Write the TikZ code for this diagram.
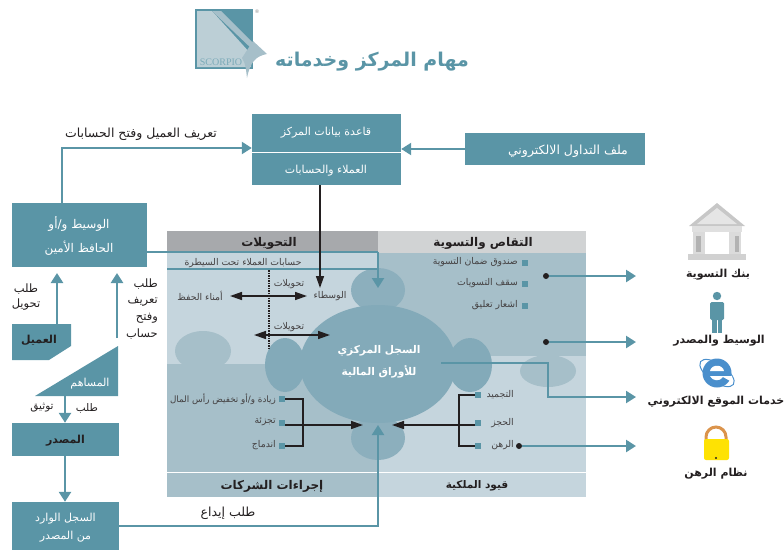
\documentclass[tikz,border=0pt]{standalone}
\usepackage{fontspec}
\usetikzlibrary{arrows.meta,shapes.geometric,calc}
\TeXXeTstate=1
\newfontfamily\arabicfont[Script=Arabic]{DejaVu Sans}
\newfontfamily\logofont{Liberation Serif}
\newcommand{\ar}[1]{{\arabicfont\beginR #1\endR}}
\newcommand{\fsz}[1]{\fontsize{#1}{#1}\selectfont}
\definecolor{teal}{HTML}{5A95A6}
\definecolor{blob}{HTML}{83AAB9}
\definecolor{midb}{HTML}{A6BFC9}
\definecolor{lightb}{HTML}{C5D5DD}
\definecolor{hdrd}{HTML}{A7A9AC}
\definecolor{hdrl}{HTML}{D1D3D4}
\definecolor{ink}{HTML}{231F20}
\definecolor{iebl}{HTML}{4A8FCC}
\tikzset{
  tealbox/.style={fill=teal,text=white,inner sep=0pt,align=center},
  lbl/.style={text=ink,inner sep=0pt,align=center,font=\fsz{12.5}},
  small/.style={text=ink!85,inner sep=0pt,font=\fsz{9.3}},
  head/.style={text=ink,inner sep=0pt,font=\fsz{12}\bfseries},
  iconl/.style={text=ink,inner sep=0pt,font=\fsz{11}\bfseries},
  tealarrow/.style={draw=teal,line width=2.8pt,-{Triangle[length=10pt,width=12pt,fill=teal]}},
  tealthin/.style={draw=teal,line width=2.2pt,-{Triangle[length=10pt,width=12pt,fill=teal]}},
  tealline/.style={draw=teal,line width=2pt},
  blkarrow/.style={draw=ink,line width=1.5pt,-{Triangle[length=12pt,width=8pt,fill=ink]}},
  blk2/.style={draw=ink,line width=1.5pt,{Triangle[length=12pt,width=8pt,fill=ink]}-{Triangle[length=12pt,width=8pt,fill=ink]}},
  brk/.style={draw=ink,line width=1.5pt},
  sq/.style={fill=teal,minimum size=6pt,inner sep=0pt},
  dot/.style={circle,fill=ink,minimum size=6pt,inner sep=0pt},
  boxtxt/.style={inner sep=0pt,text=white,align=center,font=\fsz{11}},
}
\begin{document}
\begin{tikzpicture}[x=1pt,y=-1pt]
\useasboundingbox (0,0) rectangle (784,552);
% logo
\fill[teal] (195,9) rectangle (253,69);
\fill[midb!75!white] (197,11) -- (212,11) -- (251,54) -- (251,67) -- (197,67) -- cycle;
\fill[midb] (212,11) -- (221,11) -- (253,43) -- (253,50) -- cycle;
\fill[midb] (253,41) -- (267,54) .. controls (256,56) and (250,62) .. (247,78) .. controls (246,70) and (246,64) .. (242,58) -- cycle;
\node[inner sep=0pt,text=teal!80!white,font=\logofont\fsz{10}] (scorpio) at (221,62) {SCORPIO};
\node[inner sep=0pt,text=black!45,font=\arabicfont\fsz{5}] (reg) at (257,12) {®};
\node[inner sep=0pt,text=teal,font=\fsz{19}\bfseries] (title) at (372,62) {\ar{مهام المركز وخدماته}};
% panel
\fill[hdrd] (167,231) rectangle (378,253);
\fill[hdrl] (378,231) rectangle (586,253);
\fill[lightb] (167,253) rectangle (378,364);
\fill[midb] (378,253) rectangle (586,356);
\fill[lightb] (378,356) rectangle (586,472);
\fill[midb] (167,364) rectangle (378,472);
\fill[midb] (203,351) ellipse (28 and 20);
\fill[midb] (548,371) ellipse (28 and 16);
\fill[midb] (167,473) rectangle (378,497);
\fill[lightb] (378,473) rectangle (586,497);
% blobs
\fill[blob!75!midb] (378,290) ellipse (27 and 22);
\fill[blob!75!midb] (378,438) ellipse (27 and 22);
\fill[blob] (378,364) ellipse (78 and 59);
\fill[blob] (285,365) ellipse (20 and 27);
\fill[blob] (470,365) ellipse (22 and 27);
% panel text
\node[head] (h1) at (269,243) {\ar{التحويلات}};
\node[head] (h2) at (483,243) {\ar{التقاص والتسوية}};
\node[head] (h3) at (272,486) {\ar{إجراءات الشركات}};
\node[head,font=\fsz{10.5}\bfseries] (h4) at (477,486) {\ar{قيود الملكية}};
\node[small] (acc) at (243,263) {\ar{حسابات العملاء تحت السيطرة}};
\node[small] (t1) at (289,284) {\ar{تحويلات}};
\node[small] (t2) at (289,327) {\ar{تحويلات}};
\node[small] (wus) at (330,296) {\ar{الوسطاء}};
\node[small] (cust) at (200,296) {\ar{أمناء الحفظ}};
\node[small,anchor=east] (s1) at (518,262) {\ar{صندوق ضمان التسوية}};
\node[small,anchor=east] (s2) at (518,283) {\ar{سقف التسويات}};
\node[small,anchor=east] (s3) at (518,305) {\ar{اشعار تعليق}};
\node[sq] (q1) at (525,263) {};
\node[sq] (q2) at (525,284) {};
\node[sq] (q3) at (525,306) {};
\node[small,anchor=east,font=\fsz{8.8}] (c1) at (276,399) {\ar{زيادة و/أو تخفيض رأس المال}};
\node[small,anchor=east] (c2) at (276,422) {\ar{تجزئة}};
\node[small,anchor=east] (c3) at (276,445) {\ar{اندماج}};
\node[sq] (lq1) at (282,399) {};
\node[sq] (lq2) at (282,423) {};
\node[sq] (lq3) at (282,446) {};
\node[small,anchor=east] (r1) at (514,395) {\ar{التجميد}};
\node[small,anchor=east] (r2) at (514,423) {\ar{الحجز}};
\node[small,anchor=east] (r3) at (514,445) {\ar{الرهن}};
\node[sq] (rq1) at (478,395) {};
\node[sq] (rq2) at (478,423) {};
\node[sq] (rq3) at (478,446) {};
\node[boxtxt,font=\fsz{10.6}\bfseries] (csd) at (379,362) {\ar{السجل المركزي}\\[8pt]\ar{للأوراق المالية}};
% coordinates
\coordinate (hubT) at (378,288);
\coordinate (hubB) at (378,425);
\coordinate (hubL) at (363,425);
\coordinate (hubR) at (392,425);
\coordinate (hubE) at (441,363);
\coordinate (bendE) at (548,363);
\coordinate (a1) at (636,276);
\coordinate (a2) at (636,342);
\coordinate (a3) at (636,397);
\coordinate (a4) at (636,446);
\coordinate (wusT) at (320,288);
% boxes
\node[tealbox,minimum width=149pt,minimum height=71pt] (db) at (326.5,149.5) {};
\node[boxtxt] (db1) at (326,133) {\ar{قاعدة بيانات المركز}};
\node[boxtxt] (db2) at (326,171) {\ar{العملاء والحسابات}};
\draw[white,line width=.8pt] (db.west |- 0,152) -- (db.east |- 0,152);
\node[tealbox,minimum width=180pt,minimum height=32pt] (file) at (555,149) {};
\node[boxtxt,font=\fsz{12.5}] (filet) at (568,151) {\ar{ملف التداول الالكتروني}};
\node[tealbox,minimum width=135pt,minimum height=64pt] (broker) at (79.5,235) {};
\node[boxtxt,font=\fsz{12}] (brokert) at (79,236) {\ar{الوسيط و/أو}\\[9pt]\ar{الحافظ الأمين}};
\fill[teal] (12,324) -- (71,324) -- (71,346) -- (49,360) -- (12,360) -- cycle;
\node[inner sep=0pt,text=ink,font=\fsz{11}\bfseries] (client) at (39,340) {\ar{العميل}};
\fill[teal] (118,346) -- (118,396) -- (35,396) -- cycle;
\node[boxtxt] (share) at (90,384) {\ar{المساهم}};
\coordinate (shareT) at (117,338);
\coordinate (shareB) at (65,396);
\coordinate (clientT) at (57,324);
\node[tealbox,minimum width=107pt,minimum height=33pt] (issuer) at (65.5,439.5) {};
\node[inner sep=0pt,text=ink,font=\fsz{11}\bfseries] (issuert) at (65.5,441) {\ar{المصدر}};
\node[tealbox,minimum width=107pt,minimum height=48pt] (reg2) at (65.5,526) {};
\node[boxtxt] (reg2t) at (65.5,528) {\ar{السجل الوارد}\\[6pt]\ar{من المصدر}};
% outside labels
\node[lbl] (l1) at (141,134) {\ar{تعريف العميل وفتح الحسابات}};
\node[lbl,font=\fsz{11.5}] (l2) at (26,297) {\ar{طلب}\\[3pt]\ar{تحويل}};
\node[lbl,font=\fsz{11.5},align=right,anchor=east] (l3) at (158,309) {\ar{طلب}\\[5pt]\ar{تعريف}\\[5pt]\ar{وفتح}\\[5pt]\ar{حساب}};
\node[lbl,font=\fsz{10.5}] (l4) at (42,408) {\ar{توثيق}};
\node[lbl,font=\fsz{10.5}] (l5) at (87,408) {\ar{طلب}};
\node[lbl] (l6) at (228,513) {\ar{طلب إيداع}};
% teal connectors
\draw[tealline] (167,269) -- (377,269);
\draw[tealline] (broker.east |- 0,252) -- (378,252);
\draw[tealthin] (378,252) -- (hubT);
\draw[tealthin] (broker.north -| 62,0) -- (62,148) -- (db.west |- 0,148);
\draw[tealthin] (file.west) -- (db.east |- file.west);
\draw[tealarrow] (clientT) -- (57,273);
\draw[tealarrow] (shareT) -- (117,273);
\draw[tealarrow] (shareB) -- (issuer.north -| shareB);
\draw[tealarrow] (issuer.south -| 65,0) -- (reg2.north -| 65,0);
\draw[tealthin] (reg2.east) -- (378,526) -- (hubB);
\node[dot] (d1) at (546,276) {};
\node[dot] (d2) at (546,342) {};
\node[dot] (d4) at (519,446) {};
\draw[tealarrow] (d1) -- (a1);
\draw[tealarrow] (d2) -- (a2);
\draw[tealarrow] (d4) -- (a4);
\draw[tealthin] (hubE) -- (bendE) -- (548,397) -- (a3);
% black connectors
\draw[blkarrow] (db.south -| wusT) -- (wusT);
\draw[blk2] (230,296) -- (307,296);
\draw[blk2] (254,335) -- (330,335);
\draw[ink,line width=1.5pt,densely dotted] (269,270) -- (269,348);
\draw[brk] (lq1.east) -- (303,399) -- (303,446) -- (lq3.east);
\draw[blkarrow] (lq2.east |- hubL) -- (hubL);
\draw[brk] (rq1.west) -- (459,395) -- (459,446) -- (rq3.west);
\draw[blkarrow] (rq2.west |- hubR) -- (hubR);
% bank icon
\fill[black!22] (689,226) -- (717,203) -- (745,226) -- cycle;
\fill[black!10] (697,224) -- (717,208) -- (737,224) -- cycle;
\fill[black!12] (692,226) rectangle (742,232);
\fill[black!14] (693,232) rectangle (705,254);
\fill[black!14] (729,232) rectangle (741,254);
\fill[black!30] (696,236) rectangle (701,252);
\fill[black!30] (735,236) rectangle (739,252);
\fill[black!18] (688,254) rectangle (746,260);
\node[iconl] (i1) at (718,275) {\ar{بنك التسوية}};
% person
\fill[teal] (717,296) circle (4.2);
\fill[teal,rounded corners=1.5pt] (710,302) rectangle (724,320);
\fill[teal] (712,318) rectangle (716.5,333);
\fill[teal] (717.5,318) rectangle (722,333);
\node[iconl] (i2) at (719,341) {\ar{الوسيط والمصدر}};
% IE icon
\begin{scope}[shift={(717,373)}]
\draw[iebl,line width=1pt,rotate=-35] (0,0) ellipse (20 and 9);
\fill[iebl] (0,0) circle (14.5);
\fill[white] (-7,-2) -- (7,-2) .. controls (6,-9) and (-6,-9) .. (-7,-2) -- cycle;
\fill[white] (-7,3) .. controls (-5,8) and (3,9) .. (6,4) -- (15,9) -- (15,3) -- cycle;
\end{scope}
\node[iconl] (i3) at (716,402) {\ar{خدمات الموقع الالكتروني}};
% lock
\draw[black!20!orange!70!white,line width=3pt] (706,442) -- (706,437) arc (180:360:10) -- (726,442);
\fill[yellow!85!orange,rounded corners=2pt] (704,439) rectangle (729,460);
\fill[ink] (716,458) circle (1.2);
\node[iconl] (i4) at (716,474) {\ar{نظام الرهن}};
\end{tikzpicture}
\end{document}
